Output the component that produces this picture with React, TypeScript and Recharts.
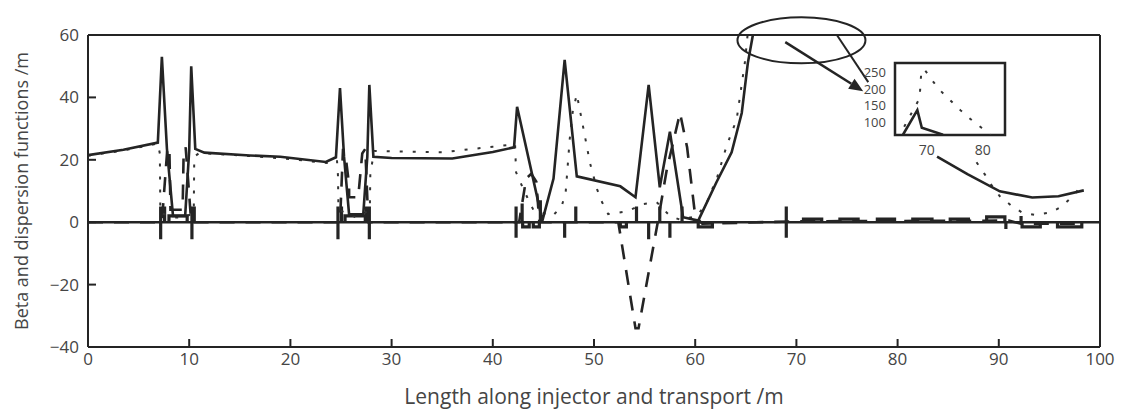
import {
  LineChart,
  Line,
  XAxis,
  YAxis,
  ReferenceLine,
  ReferenceDot,
  ReferenceArea,
} from "recharts";

type Pt = [number, number | null];

// solid: horizontal beta
const betaX: Pt[] = [
  [0, 21.5], [3.5, 23.2], [6.9, 25.5], [7.3, 53], [7.8, 23.5], [8.4, 2], [9.6, 2],
  [10.0, 23], [10.2, 50], [10.6, 23.5], [11.5, 22.3], [16, 21.4], [19, 21], [23.5, 19.3],
  [24.5, 20.8], [24.9, 43], [25.3, 21], [25.8, 2.5], [27.2, 2.5], [27.6, 21], [27.8, 44],
  [28.2, 21], [30, 20.6], [36, 20.4], [40, 22.5], [42.1, 24], [42.4, 37], [44.9, 0.5],
  [46, 14], [47.1, 52], [48.3, 14.7], [52.6, 11.5], [54.1, 8], [55.4, 44], [56.5, 11.2],
  [57.5, 29], [58.8, 1.6], [60.3, 0.5], [62.1, 12.8], [63.6, 22.4], [64.6, 35], [65.2, 51],
  [65.7, 60], [68.3, 136], [69.1, 82], [72.9, 61], [73.5, null], [83.9, 21], [86.9, 15.4],
  [90.1, 9.9], [93.3, 7.9], [95.9, 8.3], [98.4, 10.2],
];

// dotted: vertical beta
const betaY: Pt[] = [
  [0, 21.3], [3.5, 23], [6.9, 25.2], [7.1, 22], [7.15, 3], [8.5, 1.5], [9.5, 1.5],
  [10.45, 3], [10.5, 21], [11, 22.2], [16, 21.2], [20, 20.2], [23.6, 19], [24.6, 20],
  [24.7, 15], [24.75, 4], [26.5, 1.5], [27.85, 4], [27.9, 16], [28.3, 22.8], [35, 22.4],
  [40, 24.2], [42.2, 25], [42.3, 16], [42.9, 11.5], [43.4, 8], [44, 4], [45.9, 2],
  [46.8, 5], [47.2, 9.6], [47.4, 18], [47.6, 26.6], [47.9, 35.5], [48.3, 41], [48.6, 36],
  [49.1, 27.6], [49.6, 19], [50.3, 10.6], [50.8, 6.4], [51.4, 2.6], [53.3, 3.5],
  [54.8, 5.8], [56.2, 6.4], [57.5, 2], [58.5, 0.8], [60.2, 2], [61.2, 6.7], [62.2, 14.7],
  [63.1, 24.4], [64.1, 33], [64.9, 51], [66.4, 100], [68.7, 172], [69.0, 250],
  [69.5, 262], [71, 226], [72.4, 196], [74.2, 166], [76, 136], [77.8, 109], [79.8, 82],
  [81.5, 58], [82, null], [87.8, 19.2], [88.6, 15.4], [89.3, 11.8], [90.1, 8.3],
  [91.2, 5.4], [92.3, 3.1], [93.6, 2.3], [95.1, 3.1], [96.1, 4.8], [97.1, 7.7], [98, 10.9],
];

// dashed: dispersion
const eta: Pt[] = [
  [0, 0], [7.3, 0], [7.85, 24], [8.05, 22], [8.15, 4], [9.35, 4], [9.45, 22], [9.65, 24],
  [10.2, 0], [24.9, 0], [25.2, 23.5], [25.5, 20], [25.8, 12], [25.8, 8], [26.7, 8],
  [26.9, 15], [27.1, 22], [27.4, 23.5], [27.7, 0], [42.6, 0], [43.3, 14], [43.8, 15.5],
  [44.3, 13], [44.6, 0], [52.4, 0], [54.1, -34], [54.4, -34], [56.3, 0], [57.2, 17],
  [58.5, 35], [59.2, 24], [60, 2], [60.7, -0.5], [70, 0.3], [91, 0.5], [92.2, -0.5],
  [98, -0.5],
];

// lattice magnets: position, top, bottom
const magnets: [number, number, number][] = [
  [7.18, 5, -5.5], [7.57, 5, 0], [10.27, 5, -5.5], [10.5, 5, 0],
  [24.7, 5, -5.5], [25.05, 5, 0], [27.5, 5, 0], [27.8, 5, -5.5],
  [42.3, 5, -5], [42.9, 6, 0], [44.7, 7, 0], [47.1, 0, -5], [48.2, 5, 0],
  [54.2, 5, 0], [55.4, 0, -5.5], [56.5, 5, 0], [57.5, 0, -5], [58.7, 5, 0],
  [69.0, 5, -5], [90.7, 0, -2.2], [92.2, 2, 0],
];

// bending magnets: start, end, height
const bends: [number, number, number][] = [
  [8.0, 9.8, 2], [25.4, 27.4, 2], [42.95, 43.6, -1.5], [44.0, 44.6, -1.5],
  [52.6, 53.2, -1.5], [60.3, 61.7, -1.5], [70.7, 72.5, 1], [74.3, 76.1, 1],
  [78.0, 79.7, 1], [81.5, 83.4, 1], [85.2, 87.0, 1], [88.8, 90.6, 1.7],
  [92.3, 94.1, -1.5], [95.8, 98.2, -1.5],
];

const xTicks = [0, 10, 20, 30, 40, 50, 60, 70, 80, 90, 100];
const yTicks = [-40, -20, 0, 20, 40, 60];
const insetXTicks = [70, 80];
const insetYTicks = [100, 150, 200, 250];

const toRows = (pts: Pt[]) => pts.map(([s, v]) => ({ s, v }));

const latticeRows = [
  ...magnets.flatMap(([s, top, bottom]) => [
    { s, v: bottom },
    { s, v: top },
    { s, v: null },
  ]),
  ...bends.flatMap(([a, b, h]) => [
    { s: a, v: 0 },
    { s: a, v: h },
    { s: b, v: h },
    { s: b, v: 0 },
    { s: b, v: null },
  ]),
];

const INK = "#242424";
const TEXT = "#454545";
const FONT = "'Open Sans', 'DejaVu Sans', sans-serif";

const minus = (v: number) => String(v).replace("-", "\u2212");

const Arrow = (props: any) => {
  const { x1, y1, x2, y2 } = props;
  const ang = Math.atan2(y2 - y1, x2 - x1);
  const len = 14;
  const w = 6;
  const bx = x2 - len * Math.cos(ang);
  const by = y2 - len * Math.sin(ang);
  const px = -Math.sin(ang) * w;
  const py = Math.cos(ang) * w;
  return (
    <g>
      <line x1={x1} y1={y1} x2={bx} y2={by} stroke={INK} strokeWidth={2.5} />
      <polygon
        points={`${x2},${y2} ${bx + px},${by + py} ${bx - px},${by - py}`}
        fill={INK}
      />
    </g>
  );
};

export default function App() {
  const seriesCommon = {
    dataKey: "v",
    dot: false,
    activeDot: false,
    isAnimationActive: false,
    connectNulls: false,
    type: "linear" as const,
  };

  return (
    <div
      style={{
        position: "absolute",
        left: 0,
        top: 0,
        width: 1125,
        height: 410,
        background: "#fff",
      }}
    >
      <LineChart
        width={1125}
        height={410}
        margin={{ top: 34, right: 24, bottom: 0, left: 0 }}
      >
        <XAxis
          xAxisId="b"
          dataKey="s"
          type="number"
          domain={[0, 100]}
          ticks={xTicks}
          interval={0}
          allowDataOverflow
          height={63}
          tickSize={-8}
          tickMargin={14}
          axisLine={{ stroke: INK, strokeWidth: 2 }}
          tickLine={{ stroke: INK, strokeWidth: 2 }}
          tick={{ fill: TEXT, fontSize: 17, fontFamily: FONT }}
          label={{
            value: "Length along injector and transport /m",
            position: "insideBottom",
            offset: 6,
            fill: TEXT,
            fontSize: 21,
            fontFamily: FONT,
          }}
        />
        <XAxis
          xAxisId="t"
          orientation="top"
          type="number"
          domain={[0, 100]}
          ticks={xTicks}
          interval={0}
          height={1}
          tickSize={-8}
          tick={false}
          axisLine={{ stroke: INK, strokeWidth: 2 }}
          tickLine={{ stroke: INK, strokeWidth: 2 }}
        />
        <YAxis
          yAxisId="l"
          type="number"
          domain={[-40, 60]}
          ticks={yTicks}
          interval={0}
          allowDataOverflow
          width={88}
          tickSize={-8}
          tickMargin={17}
          tickFormatter={minus}
          axisLine={{ stroke: INK, strokeWidth: 2 }}
          tickLine={{ stroke: INK, strokeWidth: 2 }}
          tick={{ fill: TEXT, fontSize: 17, fontFamily: FONT }}
          label={{
            value: "Beta and dispersion functions /m",
            angle: -90,
            position: "insideLeft",
            offset: 22,
            fill: TEXT,
            fontSize: 18,
            fontFamily: FONT,
            style: { textAnchor: "middle" },
          }}
        />
        <YAxis
          yAxisId="r"
          orientation="right"
          type="number"
          domain={[-40, 60]}
          ticks={yTicks}
          interval={0}
          width={1}
          tickSize={-8}
          tick={false}
          axisLine={{ stroke: INK, strokeWidth: 2 }}
          tickLine={{ stroke: INK, strokeWidth: 2 }}
        />

        <ReferenceLine xAxisId="b" yAxisId="l" y={0} stroke={INK} strokeWidth={2.5} />

        <Line
          {...seriesCommon}
          xAxisId="b"
          yAxisId="l"
          data={latticeRows}
          stroke={INK}
          strokeWidth={3.2}
        />
        <Line
          {...seriesCommon}
          xAxisId="b"
          yAxisId="l"
          data={toRows(eta)}
          stroke={INK}
          strokeWidth={2.6}
          strokeDasharray="15 11"
        />
        <Line
          {...seriesCommon}
          xAxisId="b"
          yAxisId="l"
          data={toRows(betaY)}
          stroke="#333"
          strokeWidth={2}
          strokeDasharray="3 10"
        />
        <Line
          {...seriesCommon}
          xAxisId="b"
          yAxisId="l"
          data={toRows(betaX)}
          stroke={INK}
          strokeWidth={2.6}
        />

        <ReferenceDot
          xAxisId="b"
          yAxisId="l"
          x={70.5}
          y={58.3}
          r={1}
          shape={(p: any) => (
            <ellipse
              cx={p.cx}
              cy={p.cy}
              rx={64}
              ry={23}
              fill="none"
              stroke={INK}
              strokeWidth={2}
            />
          )}
        />
        <ReferenceLine
          xAxisId="b"
          yAxisId="l"
          segment={[
            { x: 68.9, y: 57.7 },
            { x: 76.6, y: 42 },
          ]}
          shape={Arrow}
        />
        <ReferenceLine
          xAxisId="b"
          yAxisId="l"
          segment={[
            { x: 74, y: 60 },
            { x: 77.1, y: 44.9 },
          ]}
          stroke={INK}
          strokeWidth={2}
        />
      </LineChart>

      <div style={{ position: "absolute", left: 840, top: 55 }}>
        <LineChart
          width={175}
          height={105}
          margin={{ top: 8, right: 10, bottom: 0, left: 0 }}
        >
          <XAxis
            dataKey="s"
            type="number"
            domain={[64.3, 84]}
            ticks={insetXTicks}
            interval={0}
            allowDataOverflow
            height={25}
            axisLine={false}
            tickLine={false}
            tickMargin={4}
            tick={{ fill: TEXT, fontSize: 14, fontFamily: FONT }}
          />
          <YAxis
            type="number"
            domain={[60, 280]}
            ticks={insetYTicks}
            interval={0}
            allowDataOverflow
            width={55}
            axisLine={false}
            tickLine={false}
            tickMargin={3}
            tick={{ fill: TEXT, fontSize: 13, fontFamily: FONT }}
          />
          <ReferenceArea
            x1={64.3}
            x2={84}
            y1={60}
            y2={280}
            fill="#fff"
            fillOpacity={1}
            stroke={INK}
            strokeWidth={2.5}
          />
          <Line
            {...seriesCommon}
            data={toRows(betaY)}
            stroke="#333"
            strokeWidth={2}
            strokeDasharray="3 10"
          />
          <Line
            {...seriesCommon}
            data={toRows(betaX)}
            stroke={INK}
            strokeWidth={2.6}
          />
        </LineChart>
      </div>
    </div>
  );
}
